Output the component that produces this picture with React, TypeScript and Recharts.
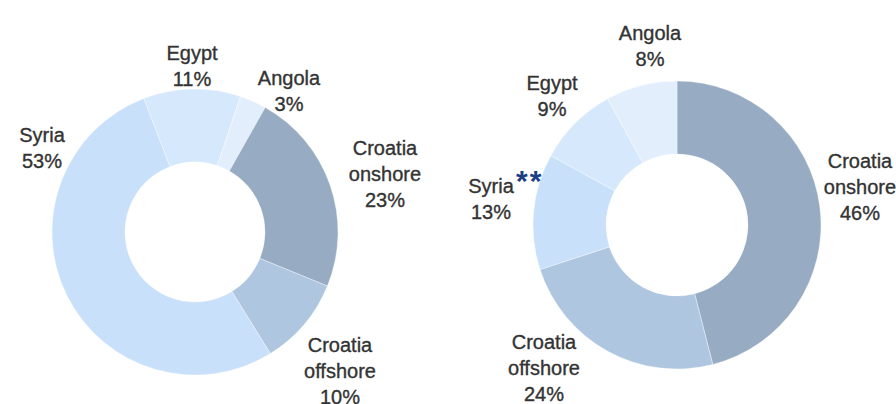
import React from "react";
import { PieChart, Pie, Cell } from "recharts";

// shares of production, %
const leftNames = ["Egypt", "Angola", "Croatia onshore", "Croatia offshore", "Syria"];
const leftShares = [11, 3, 23, 10, 53];

const rightNames = ["Croatia onshore", "Croatia offshore", "Syria", "Egypt", "Angola"];
const rightShares = [46, 24, 13, 9, 8];
const rightMarks: Record<string, string> = { Syria: "**" };

const colors: Record<string, string> = {
  Syria: "#c8e0fa",
  Egypt: "#d6e8fb",
  Angola: "#e2eefc",
  "Croatia onshore": "#97abc2",
  "Croatia offshore": "#afc6e0",
};

// label anchor (centre x, first baseline) relative to the pie centre
const leftLabelPos: Record<string, [number, number]> = {
  Egypt: [-3, -172],
  Angola: [94, -147],
  "Croatia onshore": [190, -77],
  "Croatia offshore": [145, 120],
  Syria: [-153, -90],
};
const rightLabelPos: Record<string, [number, number]> = {
  "Croatia onshore": [183, -57],
  "Croatia offshore": [-133, 124],
  Syria: [-186, -32],
  Egypt: [-125, -135],
  Angola: [-27, -185],
};

const FONT = "'Liberation Sans', Arial, sans-serif";
const LINE = 26;

const toRows = (names: string[], values: number[]) =>
  names.map((name, i) => ({ name, value: values[i] }));

const leftData = toRows(leftNames, leftShares);
const rightData = toRows(rightNames, rightShares);

function makeLabel(pos: Record<string, [number, number]>, marks: Record<string, string> = {}) {
  return (props: any) => {
    const { cx, cy, name, value } = props;
    const off = pos[name];
    if (!off) return null;
    const x = cx + off[0];
    const y = cy + off[1];
    const lines = [...name.split(" "), `${value}%`];
    const mark = marks[name];
    return (
      <g>
        <text
          x={x}
          y={y}
          textAnchor="middle"
          fill="#333333"
          stroke="#333333"
          strokeWidth={0.35}
          fontSize={20}
          fontFamily={FONT}
        >
          {lines.map((l: string, i: number) => (
            <tspan key={i} x={x} y={y + i * LINE}>
              {l}
            </tspan>
          ))}
        </text>
        {mark && (
          <text
            x={x + 25}
            y={y - 2}
            fill="#1a3f86"
            fontSize={30}
            fontWeight="bold"
            letterSpacing={2}
            fontFamily={FONT}
          >
            {mark}
          </text>
        )}
      </g>
    );
  };
}

export default function App() {
  return (
    <div style={{ position: "absolute", left: 0, top: 0, width: 896, height: 404, background: "#fff" }}>
      <PieChart width={896} height={404}>
        <Pie
          data={leftData}
          dataKey="value"
          nameKey="name"
          cx={190}
          cy={227}
          innerRadius={70}
          outerRadius={143}
          startAngle={111}
          endAngle={-249}
          stroke="#ffffff"
          strokeWidth={0.6}
          strokeOpacity={0.6}
          labelLine={false}
          label={makeLabel(leftLabelPos)}
          isAnimationActive={false}
        >
          {leftData.map((d) => (
            <Cell key={d.name} fill={colors[d.name]} />
          ))}
        </Pie>
        <Pie
          data={rightData}
          dataKey="value"
          nameKey="name"
          cx={672}
          cy={220}
          innerRadius={71}
          outerRadius={144}
          startAngle={90}
          endAngle={-270}
          stroke="#ffffff"
          strokeWidth={0.6}
          strokeOpacity={0.6}
          labelLine={false}
          label={makeLabel(rightLabelPos, rightMarks)}
          isAnimationActive={false}
        >
          {rightData.map((d) => (
            <Cell key={d.name} fill={colors[d.name]} />
          ))}
        </Pie>
      </PieChart>
    </div>
  );
}
